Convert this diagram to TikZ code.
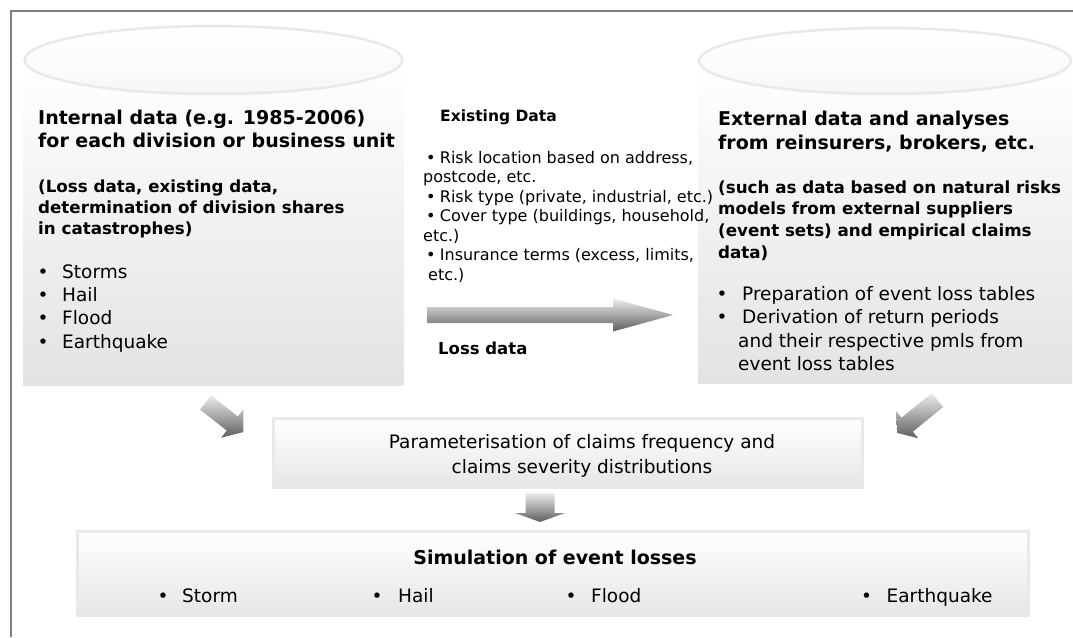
\documentclass[tikz,border=0pt]{standalone}
\usepackage{fontspec}
\setmainfont{DejaVu Sans}
\usetikzlibrary{calc}

\definecolor{rim}{RGB}{233,233,233}
\definecolor{bodylow}{RGB}{227,227,227}
\definecolor{lidlow}{RGB}{247,247,247}
\definecolor{boxlow}{RGB}{230,230,230}
\definecolor{framegray}{RGB}{128,128,128}
\definecolor{arrowlight}{RGB}{236,236,236}
\definecolor{arrowdark}{RGB}{95,95,95}

\tikzset{
  body/.style={top color=white, bottom color=bodylow, draw=none},
  lid/.style={top color=white, bottom color=lidlow, draw=rim, line width=2.5pt},
  panel/.style={draw=rim, line width=3pt, top color=white, bottom color=boxlow, inner sep=0pt},
  blockarr/.style={top color=arrowlight, bottom color=arrowdark, draw=none},
  reg/.style={inner sep=0pt, anchor=base west, font=\fontsize{18.5}{22}\selectfont},
  ttl/.style={reg, font=\fontsize{19}{23}\selectfont\bfseries},
  sub/.style={reg, font=\fontsize{16.7}{21}\selectfont\bfseries},
  mid/.style={reg, font=\fontsize{16}{19.5}\selectfont},
  midb/.style={reg, font=\fontsize{15.5}{19}\selectfont\bfseries},
  lossb/.style={reg, font=\fontsize{16.5}{19}\selectfont\bfseries},
}

% block arrow: #1 tail, #2 tip, #3 shaft half width, #4 head half width, #5 head length
\newcommand\shadedblockarrow[5]{%
  \coordinate (ba-m) at ($(#2)!#5!(#1)$);
  \path[blockarr] ($(#1)!#3!90:(#2)$) -- ($(ba-m)!#3!-90:(#1)$) -- ($(ba-m)!#4!-90:(#1)$)
    -- (#2) -- ($(ba-m)!#4!90:(#1)$) -- ($(ba-m)!#3!90:(#1)$) -- ($(#1)!#3!-90:(#2)$) -- cycle;
}

\begin{document}
\begin{tikzpicture}[x=1pt,y=-1pt]
\useasboundingbox (0,0) rectangle (1073,637);

% outer frame (top and left edges)
\draw[framegray, line width=2pt] (11,637) -- (11,11) -- (1073,11);

% internal data cylinder
\path[body] (23,60) rectangle (404,385);
\path[lid] (213.5,60) ellipse [x radius=189, y radius=34];

% external data cylinder
\path[body] (698,61) rectangle (1072,383);
\path[lid] (885,61) ellipse [x radius=186, y radius=33];

% internal data texts
\node[ttl] (it1) at (38,124) {Internal data (e.g. 1985-2006)};
\node[ttl] (it2) at (38,147) {for each division or business unit};
\node[sub] (is1) at (38,192) {(Loss data, existing data,};
\node[sub] (is2) at (38,213) {determination of division shares};
\node[sub] (is3) at (38,234) {in catastrophes)};
\node[reg] (ib1) at (37.5,278) {\makebox[24.5pt][l]{•}Storms};
\node[reg] (ib2) at (37.5,301.3) {\makebox[24.5pt][l]{•}Hail};
\node[reg] (ib3) at (37.5,324.6) {\makebox[24.5pt][l]{•}Flood};
\node[reg] (ib4) at (37.5,348) {\makebox[24.5pt][l]{•}Earthquake};

% existing data column
\node[midb] (ed) at (440,121) {Existing Data};
\node[mid] (m1) at (426,163) {\makebox[13.7pt][l]{•}Risk location based on address,};
\node[mid] (m2) at (423,182.5) {postcode, etc.};
\node[mid] (m3) at (426,202) {\makebox[13.7pt][l]{•}Risk type (private, industrial, etc.)};
\node[mid] (m4) at (426,221.5) {\makebox[13.7pt][l]{•}Cover type (buildings, household,};
\node[mid] (m5) at (423,241) {etc.)};
\node[mid] (m6) at (426,260.5) {\makebox[13.7pt][l]{•}Insurance terms (excess, limits,};
\node[mid] (m7) at (428,280) {etc.)};
\node[lossb] (ld) at (438,354) {Loss data};

% external data texts
\node[ttl] (et1) at (718,125) {External data and analyses};
\node[ttl] (et2) at (718,149) {from reinsurers, brokers, etc.};
\node[sub] (es1) at (718,193) {(such as data based on natural risks};
\node[sub] (es2) at (718,214.7) {models from external suppliers};
\node[sub] (es3) at (718,236.3) {(event sets) and empirical claims};
\node[sub] (es4) at (718,258) {data)};
\node[reg] (eb1) at (716.5,300) {\makebox[25.5pt][l]{•}Preparation of event loss tables};
\node[reg] (eb2) at (716.5,323.5) {\makebox[25.5pt][l]{•}Derivation of return periods};
\node[reg] (eb3) at (738,347) {and their respective pmls from};
\node[reg] (eb4) at (738,370.5) {event loss tables};

% parameterisation box
\node[panel, minimum width=589pt, minimum height=69pt] (param) at (568,453) {};
\node[reg, anchor=base] (p1) at (582,448) {Parameterisation of claims frequency and};
\node[reg, anchor=base] (p2) at (582,473) {claims severity distributions};

% simulation box
\node[panel, minimum width=951pt, minimum height=84pt] (sim) at (553,573.5) {};
\node[ttl, anchor=base] (st) at (555,564) {Simulation of event losses};
\node[reg] (sb1) at (157.5,602) {\makebox[24.5pt][l]{•}Storm};
\node[reg] (sb2) at (371.5,602) {\makebox[26.5pt][l]{•}Hail};
\node[reg] (sb3) at (565.5,602) {\makebox[25.5pt][l]{•}Flood};
\node[reg] (sb4) at (861,602) {\makebox[25.5pt][l]{•}Earthquake};

% flow arrows
\coordinate (ma-tail) at (427,315);
\coordinate (ma-tip) at (673,315);
\shadedblockarrow{ma-tail}{ma-tip}{8pt}{16.5pt}{60pt}

\coordinate (la-tail) at (205.5,402.5);
\coordinate (la-tip) at (243.3,432.1);
\shadedblockarrow{la-tail}{la-tip}{9pt}{18pt}{14pt}

\coordinate (ra-tail) at (937.5,400);
\coordinate (ra-tip) at (897.1,432.9);
\shadedblockarrow{ra-tail}{ra-tip}{9pt}{17.5pt}{13pt}

\coordinate (da-tail) at (540,493);
\coordinate (da-tip) at (540,522);
\shadedblockarrow{da-tail}{da-tip}{14.5pt}{25pt}{9pt}
\end{tikzpicture}
\end{document}
